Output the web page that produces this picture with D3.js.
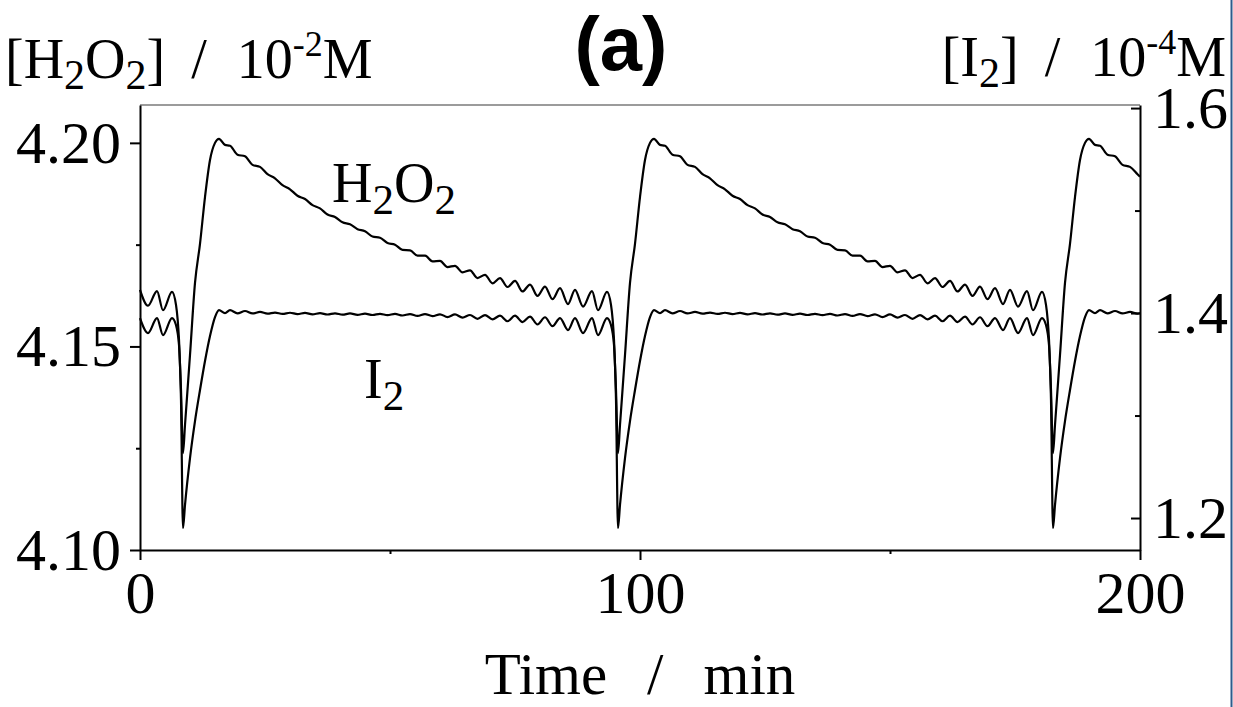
<!DOCTYPE html>
<html><head><meta charset="utf-8">
<script src="https://cdn.jsdelivr.net/npm/d3@7"></script>
<style>
html,body{margin:0;padding:0;background:#fff;}
svg{display:block;}
text,tspan{font-family:"Liberation Serif","Times New Roman",serif;fill:#000;}
</style></head><body>
<svg id="chart" width="1233" height="707"></svg>
<script>
// ---- data (time in min) ----
const time = [
 0,1.6,3.4,4.6,6.4,7.2,7.8,8.2,8.6,
 9,10,11,12,13,14,15,15.8,17,
 18,19.5,21,22.5,24,25.5,27,28.5,30,31.5,33,34.5,36,37.5,39,40.5,42,43.5,45,46.5,48,49.5,51,52.5,54,55.5,57,58.5,60,61.5,63,64.5,66,67.5,69,70.5,72,73.5,75,76.5,78,79.5,81,82.5,84,
 85.6,87,88.6,90.4,91.6,93.4,94.2,94.8,95.2,95.6,
 96,97,98,99,100,101,102,102.8,104,
 105,106.5,108,109.5,111,112.5,114,115.5,117,118.5,120,121.5,123,124.5,126,127.5,129,130.5,132,133.5,135,136.5,138,139.5,141,142.5,144,145.5,147,148.5,150,151.5,153,154.5,156,157.5,159,160.5,162,163.5,165,166.5,168,169.5,171,
 172.6,174,175.6,177.4,178.6,180.4,181.2,181.8,182.2,182.6,
 183,184,185,186,187,188,189,189.8,191,
 192,193.5,195,196.5,198,199.5,200
];
// [H2O2] / 10^-2 M  (left axis)
const h2o2 = [
 4.1639,4.1600,4.1636,4.1589,4.1634,4.1602,4.1516,4.1393,4.1238,
 4.1307,4.1479,4.1656,4.1752,4.1867,4.1958,4.2000,4.2010,4.1995,
 4.1993,4.1971,4.1967,4.1946,4.1941,4.1923,4.1913,4.1896,4.1886,4.1870,4.1862,4.1847,4.1839,4.1824,4.1818,4.1805,4.1800,4.1788,4.1783,4.1770,4.1767,4.1754,4.1750,4.1737,4.1736,4.1723,4.1723,4.1709,4.1710,4.1695,4.1698,4.1682,4.1687,4.1668,4.1676,4.1655,4.1668,4.1646,4.1661,4.1635,4.1652,4.1624,4.1647,4.1616,4.1643,
 4.1604,4.1639,4.1598,4.1636,4.1589,4.1634,4.1602,4.1516,4.1393,4.1238,
 4.1307,4.1479,4.1656,4.1752,4.1867,4.1958,4.2000,4.2010,4.1995,
 4.1993,4.1971,4.1967,4.1946,4.1941,4.1923,4.1913,4.1896,4.1886,4.1870,4.1862,4.1847,4.1839,4.1824,4.1818,4.1805,4.1800,4.1788,4.1783,4.1770,4.1767,4.1754,4.1750,4.1737,4.1736,4.1723,4.1723,4.1709,4.1710,4.1695,4.1698,4.1682,4.1687,4.1668,4.1676,4.1655,4.1668,4.1646,4.1661,4.1635,4.1652,4.1624,4.1647,4.1616,4.1643,
 4.1604,4.1639,4.1598,4.1636,4.1589,4.1634,4.1602,4.1516,4.1393,4.1238,
 4.1307,4.1479,4.1656,4.1752,4.1867,4.1958,4.2000,4.2010,4.1995,
 4.1993,4.1971,4.1967,4.1946,4.1941,4.1923,4.1917
];
// [I2] / 10^-4 M  (right axis)
const i2 = [
 1.3951,1.3805,1.3951,1.3785,1.3951,1.3883,1.3688,1.3151,1.1902,
 1.2127,1.2585,1.2946,1.3249,1.3532,1.3776,1.3961,1.4029,1.4000,
 1.4029,1.3997,1.4020,1.3996,1.4011,1.3994,1.4005,1.3992,1.4003,1.3990,1.4001,1.3988,1.3999,1.3986,1.3997,1.3984,1.3996,1.3983,1.3994,1.3981,1.3992,1.3980,1.3992,1.3976,1.3990,1.3972,1.3990,1.3970,1.3988,1.3961,1.3987,1.3955,1.3981,1.3944,1.3980,1.3939,1.3974,1.3920,1.3975,1.3912,1.3966,1.3889,1.3959,1.3872,1.3951,
 1.3834,1.3951,1.3805,1.3951,1.3785,1.3951,1.3883,1.3688,1.3151,1.1902,
 1.2127,1.2585,1.2946,1.3249,1.3532,1.3776,1.3961,1.4029,1.4000,
 1.4029,1.3997,1.4020,1.3996,1.4011,1.3994,1.4005,1.3992,1.4003,1.3990,1.4001,1.3988,1.3999,1.3986,1.3997,1.3984,1.3996,1.3983,1.3994,1.3981,1.3992,1.3980,1.3992,1.3976,1.3990,1.3972,1.3990,1.3970,1.3988,1.3961,1.3987,1.3955,1.3981,1.3944,1.3980,1.3939,1.3974,1.3920,1.3975,1.3912,1.3966,1.3889,1.3959,1.3872,1.3951,
 1.3834,1.3951,1.3805,1.3951,1.3785,1.3951,1.3883,1.3688,1.3151,1.1902,
 1.2127,1.2585,1.2946,1.3249,1.3532,1.3776,1.3961,1.4029,1.4000,
 1.4029,1.3997,1.4020,1.3996,1.4011,1.3994,1.4000
];
const xTicks = [0, 100, 200];
const xMinorTicks = [50, 150];
const leftTicks = [4.10, 4.15, 4.20];
const leftMinorTicks = [4.125, 4.175];
const rightTicks = [1.2, 1.4, 1.6];
const rightMinorTicks = [1.3, 1.5];

// ---- layout ----
const L = 140, R = 1140, T = 105, B = 550;
const SERIF = '"Liberation Serif","Times New Roman",serif';
const svg = d3.select("#chart");
svg.append("rect").attr("width",1233).attr("height",707).attr("fill","#fff");

const x = d3.scaleLinear().domain([0,200]).range([L,R]);
const yL = d3.scaleLinear().domain([4.10,4.2093]).range([B,T]);
const yR = d3.scaleLinear().domain([1.1688,1.603]).range([B,T]);

const FS = 60;
function styleAxis(g){
  g.attr("font-family",SERIF).attr("font-size",FS);
  g.selectAll("path.domain").attr("stroke","#000").attr("stroke-width",2);
  g.selectAll(".tick line").attr("stroke","#000").attr("stroke-width",2);
  g.selectAll(".tick text").attr("font-size",FS).attr("fill","#000").style("font-family",SERIF);
}

// top frame line
svg.append("line").attr("x1",L).attr("x2",R).attr("y1",T).attr("y2",T)
  .attr("stroke","#7a7a7a").attr("stroke-width",1.5);

// minor ticks
svg.append("g").attr("transform",`translate(0,${B})`)
  .call(d3.axisBottom(x).tickValues(xMinorTicks).tickSize(4).tickFormat(""))
  .call(g=>g.select(".domain").remove()).call(styleAxis);
svg.append("g").attr("transform",`translate(${L},0)`)
  .call(d3.axisLeft(yL).tickValues(leftMinorTicks).tickSize(4).tickFormat(""))
  .call(g=>g.select(".domain").remove()).call(styleAxis);
svg.append("g").attr("transform",`translate(${R},0)`)
  .call(d3.axisRight(yR).tickValues(rightMinorTicks).tickSize(-5).tickFormat(""))
  .call(g=>g.select(".domain").remove()).call(styleAxis);

// major axes
svg.append("g").attr("transform",`translate(0,${B})`)
  .call(d3.axisBottom(x).tickValues(xTicks).tickSize(10).tickSizeOuter(0).tickPadding(10).tickFormat(d3.format("d")))
  .call(styleAxis);
svg.append("g").attr("transform",`translate(${L},0)`)
  .call(d3.axisLeft(yL).tickValues(leftTicks).tickSize(10).tickSizeOuter(0).tickPadding(9).tickFormat(d3.format(".2f")))
  .call(styleAxis);
svg.append("g").attr("transform",`translate(${R},0)`)
  .call(d3.axisRight(yR).tickValues(rightTicks).tickSize(-9).tickSizeOuter(0).tickPadding(13).tickFormat(d3.format(".1f")))
  .call(styleAxis);

// curves
const lineL = d3.line().x((d,i)=>x(time[i])).y(d=>yL(d)).curve(d3.curveMonotoneX);
const lineR = d3.line().x((d,i)=>x(time[i])).y(d=>yR(d)).curve(d3.curveMonotoneX);
svg.append("path").attr("d",lineL(h2o2)).attr("fill","none").attr("stroke","#000").attr("stroke-width",2.2).attr("stroke-linejoin","round");
svg.append("path").attr("d",lineR(i2)).attr("fill","none").attr("stroke","#000").attr("stroke-width",2.2).attr("stroke-linejoin","round");

function txt(xp, yp, fs){
  return svg.append("text").attr("x",xp).attr("y",yp).attr("font-size",fs).attr("font-family",SERIF);
}
// left title
{
  const t = txt(5,78,56);
  t.append("tspan").text("[H");
  t.append("tspan").attr("font-size",42).attr("dy",11).text("2");
  t.append("tspan").attr("dy",-11).text("O");
  t.append("tspan").attr("font-size",42).attr("dy",11).text("2");
  t.append("tspan").attr("dy",-11).text("]");
  t.append("tspan").attr("dx",26).text("/");
  t.append("tspan").attr("dx",30).text("10");
  t.append("tspan").attr("font-size",36).attr("dy",-22).text("-2");
  t.append("tspan").attr("dy",22).text("M");
}
// right title
{
  const t = txt(1226,76,56).attr("text-anchor","end");
  t.append("tspan").text("[I");
  t.append("tspan").attr("font-size",42).attr("dy",11).text("2");
  t.append("tspan").attr("dy",-11).text("]");
  t.append("tspan").attr("dx",26).text("/");
  t.append("tspan").attr("dx",30).text("10");
  t.append("tspan").attr("font-size",36).attr("dy",-22).text("-4");
  t.append("tspan").attr("dy",22).text("M");
}
// panel label
svg.append("text").attr("x",621).attr("y",70).attr("text-anchor","middle")
  .attr("font-size",76).attr("font-weight","bold")
  .attr("font-family",'"Liberation Sans",Arial,sans-serif')
  .style("font-family",'"Liberation Sans",Arial,sans-serif').text("(a)");

// curve labels
{
  const t = txt(332,202,56);
  t.append("tspan").text("H");
  t.append("tspan").attr("font-size",43).attr("dy",12).text("2");
  t.append("tspan").attr("dy",-12).text("O");
  t.append("tspan").attr("font-size",43).attr("dy",12).text("2");
}
{
  const t = txt(364,398,56);
  t.append("tspan").text("I");
  t.append("tspan").attr("font-size",43).attr("dy",12).text("2");
}
// x axis title
{
  const t = txt(640,694,59).attr("text-anchor","middle");
  t.append("tspan").text("Time");
  t.append("tspan").attr("dx",40).text("/");
  t.append("tspan").attr("dx",40).text("min");
}
// right edge blue rule
svg.append("line").attr("x1",1231.5).attr("x2",1231.5).attr("y1",0).attr("y2",707)
  .attr("stroke","#2e5b8c").attr("stroke-width",2);
</script>
</body></html>
